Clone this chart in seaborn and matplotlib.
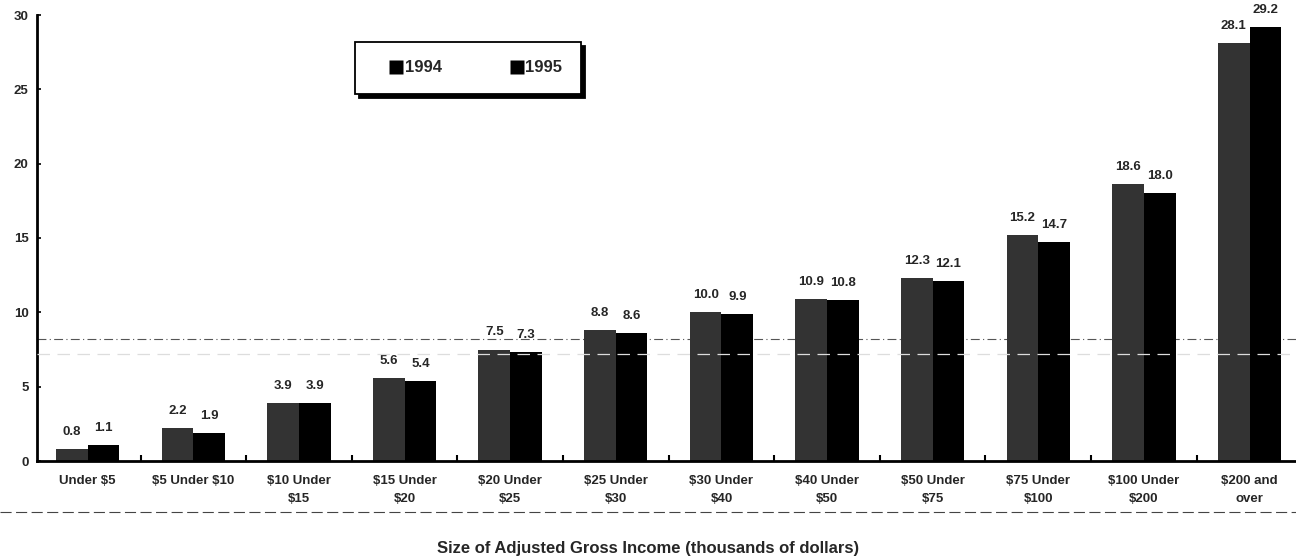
import matplotlib
matplotlib.use("Agg")
import matplotlib.pyplot as plt
import seaborn as sns
import pandas as pd
import numpy as np
from matplotlib.lines import Line2D

categories = ["Under $5", "$5 Under $10", "$10 Under\n$15", "$15 Under\n$20",
              "$20 Under\n$25", "$25 Under\n$30", "$30 Under\n$40", "$40 Under\n$50",
              "$50 Under\n$75", "$75 Under\n$100", "$100 Under\n$200", "$200 and\nover"]
values_1994 = [0.8, 2.2, 3.9, 5.6, 7.5, 8.8, 10.0, 10.9, 12.3, 15.2, 18.6, 28.1]
values_1995 = [1.1, 1.9, 3.9, 5.4, 7.3, 8.6, 9.9, 10.8, 12.1, 14.7, 18.0, 29.2]
years = ["1994", "1995"]
y_ticks = [0, 5, 10, 15, 20, 25, 30]

df = pd.DataFrame({
    "cat": categories * 2,
    "year": [years[0]] * len(categories) + [years[1]] * len(categories),
    "val": values_1994 + values_1995,
})

sns.set_theme(style="white")
plt.rcParams["font.family"] = ["Liberation Sans", "DejaVu Sans"]
plt.rcParams["font.weight"] = "bold"
plt.rcParams["text.parse_math"] = False

colors = {"1994": "#333333", "1995": "#000000"}

W, H = 1296, 559
ax_left, ax_bottom_px, ax_top_px = 37, 461, 15
fig = plt.figure(figsize=(W / 100, H / 100), dpi=100)
ax = fig.add_axes([ax_left / W, 1 - ax_bottom_px / H, 1 - ax_left / W,
                   (ax_bottom_px - ax_top_px) / H])

sns.barplot(data=df, x="cat", y="val", hue="year", order=categories,
            hue_order=years, palette=colors, width=0.6, ax=ax,
            saturation=1, legend=False, edgecolor="none", linewidth=0)

for cont in ax.containers:
    ax.bar_label(cont, fmt="%.1f", padding=8, fontsize=9.5, fontweight="bold")

ax.set_ylim(0, 30)
ax.set_xlim(-0.48, 11.44)
ax.set_yticks(y_ticks)
ax.set_yticklabels([str(t) for t in y_ticks], fontsize=9.5, fontweight="bold")
ax.set_xticks(range(len(categories)))
ax.set_xticklabels(categories, fontsize=9.5, fontweight="bold", linespacing=1.7)
ax.tick_params(axis="x", length=0, pad=10)
ax.tick_params(axis="y", length=3, width=1.2, direction="in", pad=6, left=True, color="black")
ax.set_xticks(np.arange(0.5, len(categories) - 1, 1.0), minor=True)
ax.tick_params(axis="x", which="minor", length=4, width=1.5, direction="in",
               bottom=True, color="black")
ax.set_xlabel("")
ax.set_ylabel("")
sns.despine(ax=ax, top=True, right=True)
for s in ["left", "bottom"]:
    ax.spines[s].set_color("black")
    ax.spines[s].set_linewidth(2)

# scan artefact lines
ax.axhline(8.2, color="#555555", lw=0.8, ls=(0, (8, 3, 1, 3)), zorder=0.5)
ax.axhline(7.2, color="#dddddd", lw=0.9, ls=(0, (10, 6)), zorder=5)
fig.add_artist(Line2D([0, 1], [1 - 512 / H, 1 - 512 / H], transform=fig.transFigure,
                      color="#444444", lw=0.8, ls=(0, (10, 4))))

handles = [Line2D([0], [0], marker="s", color="none", markerfacecolor="black",
                  markeredgecolor="none", markersize=9.5, label=y) for y in years]
ax_w = W - ax_left
ax_h = ax_bottom_px - ax_top_px
lx0 = (355 - ax_left) / ax_w
ly_top = (ax_bottom_px - 42) / ax_h
leg = ax.legend(handles=handles, loc="upper left", bbox_to_anchor=(lx0, ly_top),
                ncol=2, frameon=True, fancybox=False,
                shadow={"color": "black", "alpha": 1, "ox": 3, "oy": -3},
                edgecolor="black", fontsize=12, handletextpad=-0.85, columnspacing=3.1,
                borderpad=1.1, borderaxespad=0, handlelength=2.75)
leg.get_frame().set_linewidth(1.3)
for t in leg.get_texts():
    t.set_fontweight("bold")

fig.text(0.5, 1 - 549 / H, "Size of Adjusted Gross Income (thousands of dollars)",
         ha="center", va="center", fontsize=12, fontweight="bold")

fig.savefig("out.png", dpi=100)
